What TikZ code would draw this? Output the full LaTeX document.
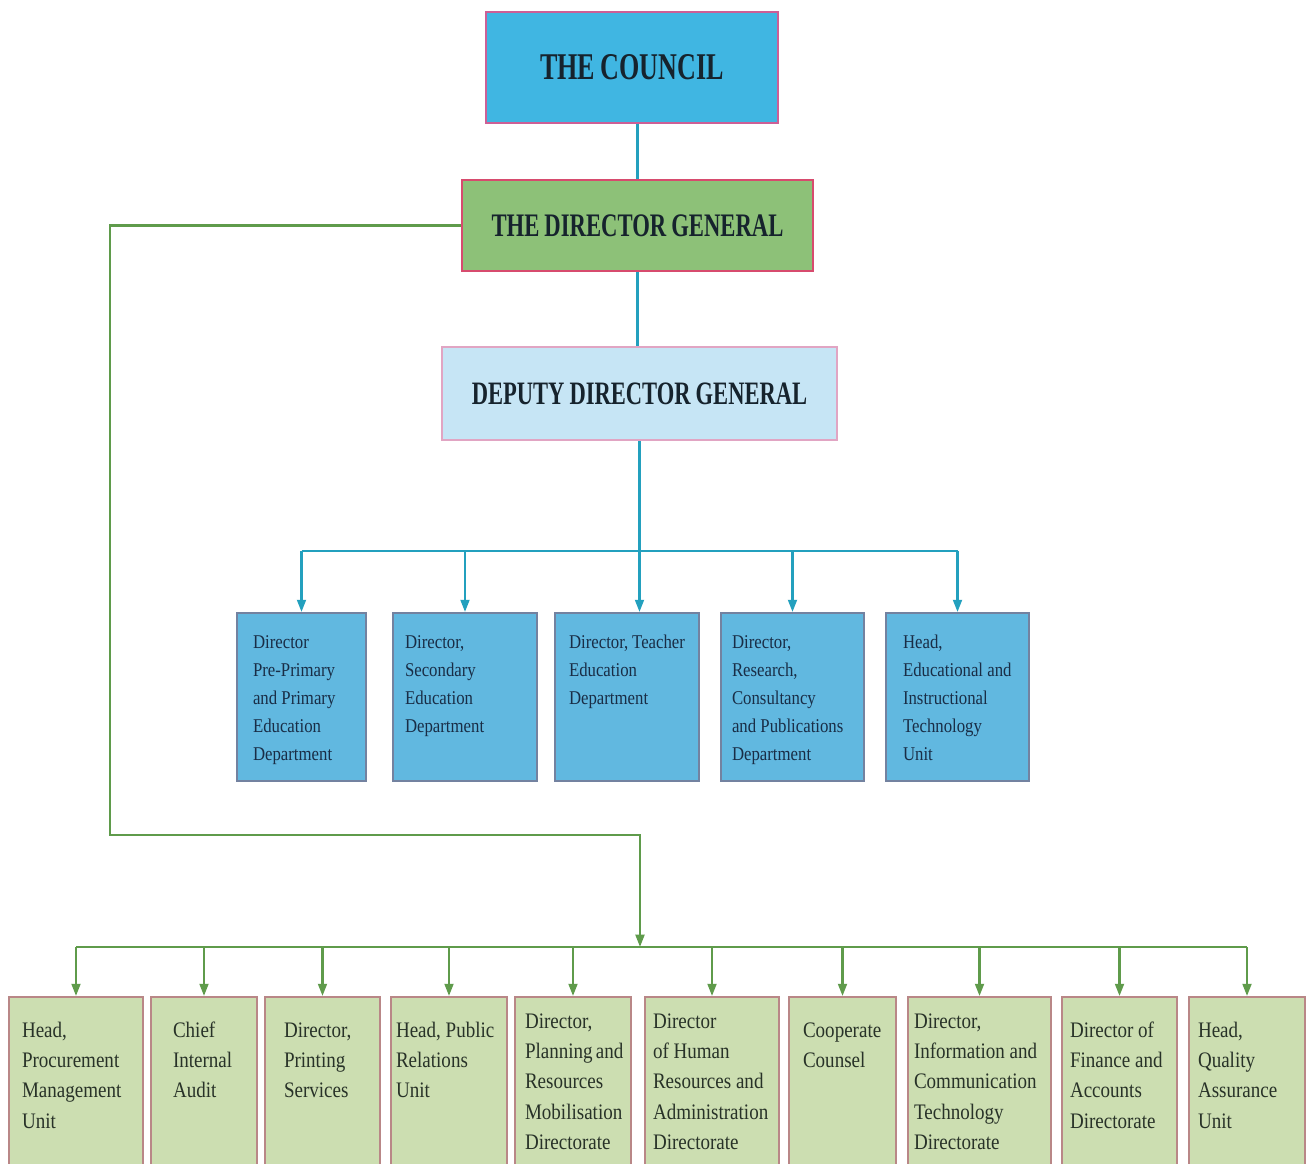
\documentclass[tikz,border=0pt]{standalone}
\usepackage{fontspec}
\setmainfont{Liberation Serif}
\newfontfamily\titlefont[FakeStretch=0.69, WordSpace=0.9]{Liberation Serif}
\newfontfamily\boxfont[FakeStretch=0.86]{Liberation Serif}
\usetikzlibrary{arrows.meta}

\definecolor{councilblue}{RGB}{64,182,226}
\definecolor{councilline}{RGB}{205,95,150}
\definecolor{dggreen}{RGB}{141,193,120}
\definecolor{dgline}{RGB}{215,75,110}
\definecolor{ddgfill}{RGB}{198,229,245}
\definecolor{ddgline}{RGB}{225,165,195}
\definecolor{deptblue}{RGB}{97,184,224}
\definecolor{deptline}{RGB}{115,130,160}
\definecolor{unitgreen}{RGB}{204,222,177}
\definecolor{unitline}{RGB}{185,135,135}
\definecolor{linkblue}{RGB}{35,160,190}
\definecolor{linkgreen}{RGB}{95,155,75}
\definecolor{titletext}{RGB}{22,35,45}
\definecolor{depttext}{RGB}{25,45,70}
\definecolor{unittext}{RGB}{40,50,40}

\hyphenpenalty=10000
\exhyphenpenalty=10000

\begin{document}
\begin{tikzpicture}[x=0.02cm, y=-0.02cm,
  headbox/.style = {draw, line width=1.2pt, inner sep=0pt, text=titletext},
  deptbox/.style = {draw=deptline, fill=deptblue, line width=1.1pt, inner xsep=0pt, inner ysep=0pt,
    align=flush left, text=depttext, font=\boxfont\fontsize{11.1}{16}\selectfont, text height=0.71cm, text depth=2.65cm},
  unitbox/.style = {draw=unitline, fill=unitgreen, line width=1.1pt, inner xsep=0pt, inner ysep=0pt,
    align=flush left, text=unittext, font=\boxfont\fontsize{12.6}{17.3}\selectfont, text height=0.8cm, text depth=2.9cm},
  fiveline/.style = {text height=0.62cm, text depth=3.08cm},
  blueline/.style = {draw=linkblue, line width=1.4pt},
  bluearrow/.style = {blueline, -{Triangle[length=7pt,width=5pt]}},
  greenline/.style = {draw=linkgreen, line width=1.4pt},
  greenarrow/.style = {greenline, -{Triangle[length=7pt,width=5pt]}}]

\path[use as bounding box, fill=white] (0,0) rectangle (1311,1163);
\clip (0,0) rectangle (1311,1163);

\node[headbox, draw=councilline, fill=councilblue, minimum width=5.84cm, minimum height=2.22cm,
  font=\titlefont\bfseries\fontsize{21.5}{24}\selectfont] (council) at (632,67.5) {THE COUNCIL};
\node[headbox, draw=dgline, fill=dggreen, minimum width=7.02cm, minimum height=1.82cm,
  font=\titlefont\bfseries\fontsize{18.7}{22}\selectfont] (dg) at (637.5,225.5) {THE DIRECTOR GENERAL};
\node[headbox, draw=ddgline, fill=ddgfill, minimum width=7.9cm, minimum height=1.86cm,
  font=\titlefont\bfseries\fontsize{18.6}{22}\selectfont] (ddg) at (639.5,393.5) {DEPUTY DIRECTOR GENERAL};

\node[deptbox, minimum width=2.58cm, text width=1.94cm] (pp) at (301.5,697) {Director\\Pre-Primary\\and~Primary\\Education\\Department};
\node[deptbox, minimum width=2.88cm, text width=2.40cm] (se) at (465,697) {Director,\\Secondary\\Education\\Department};
\node[deptbox, minimum width=2.88cm, text width=2.32cm] (te) at (627,697) {Director,~Teacher\\Education\\Department};
\node[deptbox, minimum width=2.86cm, text width=2.42cm] (rc) at (792.5,697) {Director,\\Research,\\Consultancy\\and~Publications\\Department};
\node[deptbox, minimum width=2.86cm, text width=2.18cm] (et) at (957.5,697) {Head,\\Educational~and\\Instructional\\Technology\\Unit};

\node[unitbox, minimum width=2.68cm, text width=2.16cm] (pm) at (76,1089.5) {Head,\\Procurement\\Management\\Unit};
\node[unitbox, minimum width=2.12cm, text width=1.24cm] (ia) at (204,1089.5) {Chief\\Internal\\Audit};
\node[unitbox, minimum width=2.30cm, text width=1.54cm] (ps) at (322.5,1089.5) {Director,\\Printing\\Services};
\node[unitbox, minimum width=2.32cm, text width=2.12cm] (pr) at (449,1089.5) {Head,~Public\\Relations\\Unit};
\node[unitbox, fiveline, minimum width=2.32cm, text width=1.92cm] (pl) at (573,1089.5) {Director,\\Planning~and\\Resources\\Mobilisation\\Directorate};
\node[unitbox, fiveline, minimum width=2.68cm, text width=2.36cm] (hr) at (712,1089.5) {Director\\of~Human\\Resources~and\\Administration\\Directorate};
\node[unitbox, minimum width=2.14cm, text width=1.58cm] (cc) at (842.5,1089.5) {Cooperate\\Counsel};
\node[unitbox, fiveline, minimum width=2.86cm, text width=2.62cm] (ict) at (979.5,1089.5) {Director,\\Information~and\\Communication\\Technology\\Directorate};
\node[unitbox, minimum width=2.30cm, text width=1.98cm] (fa) at (1119.5,1089.5) {Director~of\\Finance~and\\Accounts\\Directorate};
\node[unitbox, minimum width=2.32cm, text width=1.96cm] (qa) at (1247,1089.5) {Head,\\Quality\\Assurance\\Unit};

\coordinate (dbus) at (638,551);
\coordinate (gturn) at (110,835);
\coordinate (ubus) at (640,947);

\draw[blueline] (council.south -| dg.north) -- (dg.north);
\draw[blueline] (dg.south) -- (dg.south |- ddg.north);
\draw[bluearrow] (ddg.south) -- (ddg.south |- te.north);
\draw[blueline] (dbus -| pp) -- (dbus -| et);
\foreach \d in {pp,se,rc,et}
  \draw[bluearrow] (dbus -| \d) -- (\d);

\draw[greenarrow] (dg.west) -| (gturn) -| (ubus);
\draw[greenline] (ubus -| pm) -- (ubus -| qa);
\foreach \u in {pm,ia,ps,pr,pl,hr,cc,ict,fa,qa}
  \draw[greenarrow] (ubus -| \u) -- (\u);

\end{tikzpicture}
\end{document}
